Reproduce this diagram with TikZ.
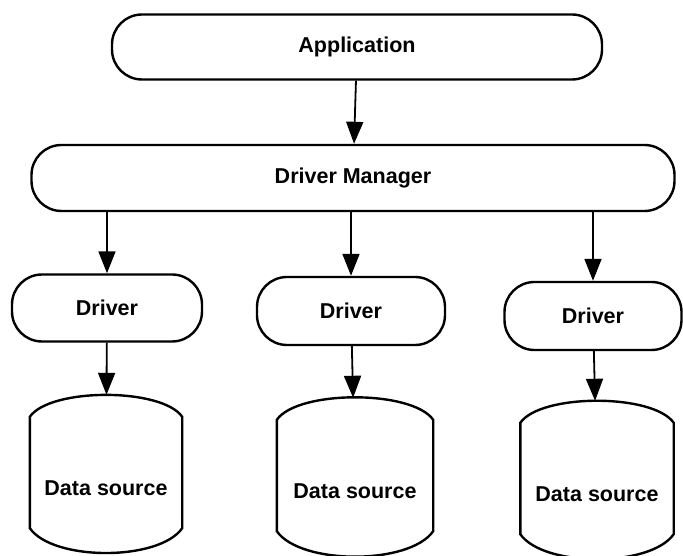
\documentclass[tikz,border=0pt]{standalone}
\usepackage{fontspec}
\setmainfont{Liberation Sans}
\usepackage{tikz}
\usetikzlibrary{arrows.meta}

\begin{document}
\begin{tikzpicture}[x=1pt,y=1pt,
    box/.style={draw,line width=2.4pt,rounded corners=30pt,font=\bfseries\fontsize{21.5}{24}\selectfont},
    store/.style={minimum width=#1,minimum height=158pt,text height=44pt,font=\bfseries\fontsize{21.5}{24}\selectfont},
    arr/.style={line width=1.8pt,-{Triangle[length=22pt,width=17pt]}}]
    \useasboundingbox (0,0) rectangle (683,556);
    \node[box,minimum width=490pt,minimum height=65pt] (app) at (357,509) {Application};
    \node[box,minimum width=643pt,minimum height=66pt] (dm) at (353,378) {Driver Manager};
    \node[box,minimum width=190pt,minimum height=67pt] (drv1) at (107,248) {Driver};
    \node[box,minimum width=188pt,minimum height=68pt] (drv2) at (351,245) {Driver};
    \node[box,minimum width=177pt,minimum height=68pt] (drv3) at (593,240) {Driver};
    \node[store=152pt] (ds1) at (106,82) {Data source};
    \node[store=156pt] (ds2) at (355,79) {Data source};
    \node[store=153pt] (ds3) at (597,76) {Data source};
    \foreach \d in {ds1,ds2,ds3}
      \draw[line width=2.4pt] ([yshift=-22pt]\d.north west) to[out=55,in=125,looseness=0.6] ([yshift=-22pt]\d.north east)
        -- ([yshift=25pt]\d.south east) to[out=-125,in=-55,looseness=0.68] ([yshift=25pt]\d.south west) -- cycle;
    \draw[arr] (app) -- (dm);
    \foreach \i in {1,2,3} {
      \draw[arr] (dm.south -| drv\i.north) -- (drv\i.north);
      \draw[arr] (drv\i) -- (ds\i);
    }
  \end{tikzpicture}
\end{document}
